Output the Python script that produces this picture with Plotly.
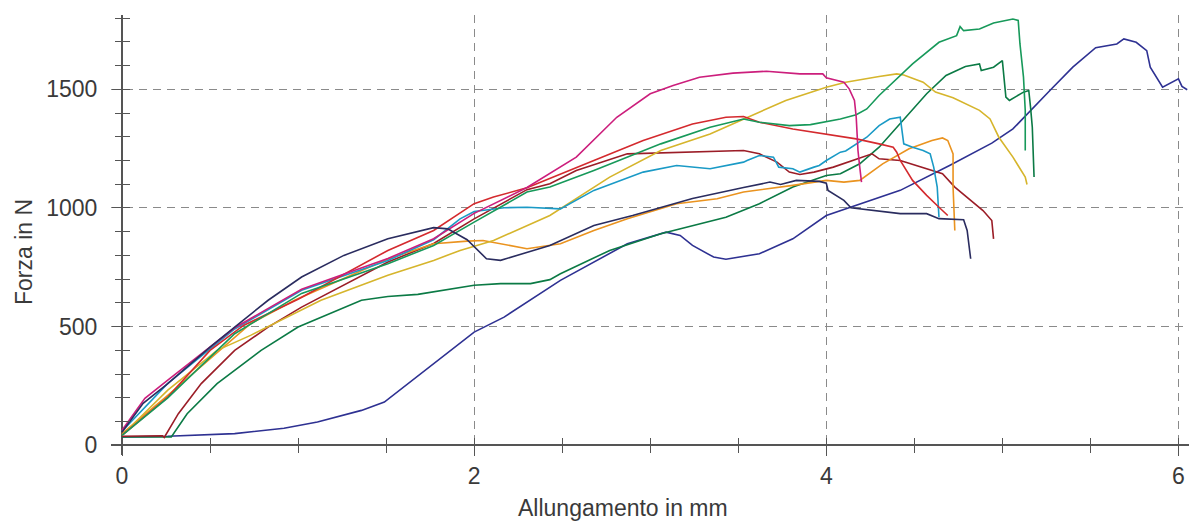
import plotly.graph_objects as go

# ---------------- data (Allungamento in mm, Forza in N) ----------------
prova1_x = [0, 0.12, 0.26, 0.5, 0.64, 0.83, 1.02, 1.26, 1.51, 1.77, 1.85, 1.96, 2.07, 2.15, 2.43, 2.68, 2.9, 3.24, 3.53, 3.68, 3.74, 3.83, 3.96, 4.0, 4.01, 4.1, 4.14, 4.25, 4.42, 4.57, 4.64, 4.78, 4.8, 4.82]
prova1_y = [55, 177, 260, 414, 498, 611, 709, 800, 870, 917, 912, 866, 786, 779, 842, 926, 968, 1040, 1086, 1109, 1099, 1116, 1112, 1104, 1074, 1032, 1001, 992, 976, 976, 955, 950, 905, 786]

prova2_x = [0, 0.26, 0.64, 0.92, 1.11, 1.36, 1.49, 1.77, 2.0, 2.17, 2.49, 2.87, 3.06, 3.09, 3.17, 3.24, 3.36, 3.43, 3.62, 3.81, 4.0, 4.13, 4.42, 4.7, 4.94, 5.06, 5.15, 5.27, 5.4, 5.53, 5.65, 5.69, 5.76, 5.82, 5.84, 5.91, 6.0, 6.02, 6.05]
prova2_y = [35, 38, 49, 72, 98, 147, 182, 344, 477, 540, 695, 849, 894, 898, 884, 842, 793, 784, 807, 870, 968, 1001, 1074, 1179, 1273, 1333, 1403, 1495, 1593, 1675, 1691, 1712, 1698, 1663, 1593, 1509, 1544, 1512, 1498]

prova3_x = [0, 0.13, 0.26, 0.64, 1.02, 1.51, 1.77, 2.0, 2.3, 2.58, 2.81, 3.0, 3.13, 3.28, 3.47, 3.66, 3.85, 3.98, 4.0, 4.1, 4.13, 4.16, 4.17, 4.18, 4.19, 4.2]
prova3_y = [63, 198, 274, 495, 657, 787, 870, 977, 1086, 1214, 1382, 1481, 1516, 1551, 1568, 1576, 1565, 1565, 1548, 1530, 1502, 1453, 1382, 1242, 1172, 1109]

prova4_x = [0, 0.26, 0.5, 0.69, 1.0, 1.51, 1.77, 2.0, 2.11, 2.3, 2.68, 2.96, 3.24, 3.43, 3.53, 3.62, 3.81, 4.0, 4.17, 4.3, 4.38, 4.4, 4.42, 4.49, 4.57, 4.64, 4.69]
prova4_y = [42, 203, 400, 505, 615, 821, 905, 1018, 1046, 1085, 1200, 1284, 1354, 1382, 1385, 1361, 1333, 1312, 1291, 1270, 1256, 1235, 1200, 1116, 1053, 1003, 968]

prova5_x = [0, 0.23, 0.24, 0.32, 0.45, 0.64, 0.83, 1.02, 1.51, 1.77, 2.0, 2.3, 2.43, 2.58, 2.87, 3.24, 3.53, 3.62, 3.72, 3.79, 3.85, 3.93, 4.04, 4.26, 4.3, 4.42, 4.57, 4.66, 4.73, 4.81, 4.89, 4.94, 4.95]
prova5_y = [38, 40, 33, 133, 260, 400, 498, 582, 772, 850, 954, 1077, 1102, 1158, 1228, 1235, 1242, 1228, 1193, 1151, 1141, 1151, 1172, 1228, 1207, 1200, 1165, 1144, 1088, 1039, 989, 947, 870]

prova6_x = [0, 0.26, 0.73, 0.98, 1.51, 1.77, 1.96, 2.05, 2.3, 2.49, 2.68, 2.87, 3.15, 3.38, 3.53, 3.72, 3.81, 4.0, 4.1, 4.19, 4.32, 4.47, 4.6, 4.66, 4.69, 4.72, 4.72, 4.73]
prova6_y = [49, 210, 512, 611, 785, 849, 860, 863, 828, 849, 905, 954, 1018, 1039, 1067, 1085, 1095, 1116, 1109, 1116, 1186, 1249, 1284, 1295, 1284, 1228, 1088, 905]

prova7_x = [0, 0.26, 0.54, 0.73, 1.13, 1.51, 1.77, 1.92, 2.11, 2.43, 2.77, 3.06, 3.34, 3.53, 3.77, 4.0, 4.11, 4.3, 4.4, 4.44, 4.55, 4.62, 4.72, 4.87, 4.93, 4.98, 5.06, 5.13, 5.14]
prova7_y = [42, 232, 400, 463, 611, 716, 779, 821, 863, 968, 1130, 1242, 1312, 1375, 1453, 1509, 1530, 1554, 1565, 1560, 1530, 1488, 1464, 1411, 1375, 1298, 1214, 1130, 1099]

prova8_x = [0, 0.26, 0.64, 1.02, 1.51, 1.77, 2.0, 2.3, 2.43, 2.68, 3.06, 3.34, 3.53, 3.62, 3.79, 3.91, 4.08, 4.17, 4.23, 4.3, 4.49, 4.64, 4.74, 4.76, 4.78, 4.87, 4.95, 5.06, 5.09, 5.1, 5.12, 5.13, 5.13]
prova8_y = [42, 200, 470, 640, 765, 842, 940, 1067, 1088, 1158, 1270, 1340, 1375, 1361, 1347, 1351, 1375, 1393, 1417, 1474, 1607, 1698, 1726, 1764, 1747, 1754, 1779, 1796, 1790, 1691, 1551, 1411, 1242]

prova9_x = [0, 0.28, 0.37, 0.54, 0.79, 1.0, 1.36, 1.51, 1.68, 2.0, 2.15, 2.32, 2.43, 2.49, 2.77, 3.06, 3.43, 3.62, 3.81, 4.0, 4.08, 4.19, 4.3, 4.42, 4.57, 4.68, 4.79, 4.87, 4.88, 4.95, 5.0, 5.02, 5.04, 5.12, 5.15, 5.16, 5.17, 5.18]
prova9_y = [35, 35, 133, 260, 400, 498, 611, 627, 636, 674, 681, 681, 698, 723, 821, 891, 961, 1018, 1088, 1137, 1144, 1186, 1256, 1354, 1481, 1558, 1596, 1607, 1579, 1593, 1621, 1467, 1453, 1488, 1495, 1425, 1340, 1130]

prova10_x = [0, 0.26, 0.64, 1.02, 1.51, 1.77, 1.92, 2.0, 2.17, 2.3, 2.49, 2.68, 2.96, 3.15, 3.34, 3.53, 3.55, 3.62, 3.7, 3.73, 3.81, 3.85, 3.93, 3.96, 4.0, 4.08, 4.11, 4.23, 4.3, 4.36, 4.42, 4.44, 4.49, 4.55, 4.59, 4.61, 4.63, 4.64]
prova10_y = [59, 261, 490, 653, 779, 866, 954, 985, 1001, 1003, 996, 1074, 1151, 1179, 1165, 1193, 1200, 1221, 1214, 1172, 1165, 1151, 1172, 1179, 1200, 1235, 1240, 1298, 1347, 1375, 1382, 1270, 1256, 1242, 1228, 1172, 1088, 961]

x_ticks = [0, 2, 4, 6]
y_ticks = [0, 500, 1000, 1500]

series = [
    (prova2_x, prova2_y, "#2e3192"),
    (prova9_x, prova9_y, "#0b7a45"),
    (prova5_x, prova5_y, "#9b1d27"),
    (prova6_x, prova6_y, "#ea931f"),
    (prova7_x, prova7_y, "#d6b52c"),
    (prova10_x, prova10_y, "#1a9ac6"),
    (prova4_x, prova4_y, "#d42a2e"),
    (prova8_x, prova8_y, "#17995a"),
    (prova3_x, prova3_y, "#cc1e7c"),
    (prova1_x, prova1_y, "#2a2c5f"),
]

fig = go.Figure()
for xs, ys, col in series:
    fig.add_trace(go.Scatter(x=xs, y=ys, mode="lines", line=dict(color=col, width=1.6),
                             showlegend=False, hoverinfo="skip", cliponaxis=False))
# empty trace to activate overlay axes (inner half of crossing ticks)
fig.add_trace(go.Scatter(x=[], y=[], xaxis="x2", yaxis="y2", showlegend=False, hoverinfo="skip"))

X_RANGE = [-0.0625, 6.06]
Y_RANGE = [-41, 1813]
xpos = (0 - Y_RANGE[0]) / (Y_RANGE[1] - Y_RANGE[0])
ypos = (0 - X_RANGE[0]) / (X_RANGE[1] - X_RANGE[0])

axis_col = "#555555"
grid_col = "#8a8a8a"
tfont = dict(family="Liberation Sans, Arial, sans-serif", size=23, color="#3a3a3a")

L, R, T, B = 111, 0, 15, 67
PW, PH = 1189 - L - R, 522 - T - B

fig.update_layout(
    width=1189, height=522,
    margin=dict(l=L, r=R, t=T, b=B, autoexpand=False),
    paper_bgcolor="white", plot_bgcolor="white",
    showlegend=False,
    xaxis=dict(range=X_RANGE, anchor="free", position=xpos, automargin=False,
               tickmode="array", tickvals=x_ticks, ticktext=[str(v) for v in x_ticks],
               ticks="outside", ticklen=10, tickwidth=1.3, tickcolor=axis_col,
               minor=dict(dtick=0.5, tick0=0, ticks="outside", ticklen=7, tickwidth=1.3,
                          tickcolor=axis_col, showgrid=False),
               showgrid=True, gridcolor=grid_col, gridwidth=1.3, griddash="8px,6px",
               zeroline=True, zerolinecolor=axis_col, zerolinewidth=1.5,
               showline=False, tickfont=tfont, ticklabelstandoff=0),
    yaxis=dict(range=Y_RANGE, anchor="free", position=ypos, automargin=False,
               tickmode="array", tickvals=y_ticks, ticktext=[str(v) for v in y_ticks],
               ticks="outside", ticklen=10, tickwidth=1.3, tickcolor=axis_col,
               minor=dict(dtick=100, tick0=0, ticks="outside", ticklen=7, tickwidth=1.3,
                          tickcolor=axis_col, showgrid=False),
               showgrid=True, gridcolor=grid_col, gridwidth=1.3, griddash="8px,6px",
               zeroline=True, zerolinecolor=axis_col, zerolinewidth=1.5,
               showline=False, tickfont=tfont, ticklabelstandoff=10),
    xaxis2=dict(range=X_RANGE, overlaying="x", anchor="free", position=xpos, automargin=False,
                tickmode="linear", tick0=0, dtick=0.5, ticks="inside", ticklen=7, tickwidth=1.3,
                tickcolor=axis_col, showticklabels=False, showgrid=False, zeroline=False, showline=False),
    yaxis2=dict(range=Y_RANGE, overlaying="y", anchor="free", position=ypos, automargin=False,
                tickmode="linear", tick0=0, dtick=100, ticks="inside", ticklen=7, tickwidth=1.3,
                tickcolor=axis_col, showticklabels=False, showgrid=False, zeroline=False, showline=False),
    annotations=[
        dict(text="Allungamento in mm", xref="paper", yref="paper", x=(623 - L) / PW,
             y=(T + PH - 508) / PH, xanchor="center", yanchor="middle", showarrow=False, font=tfont),
        dict(text="Forza in N", xref="paper", yref="paper", x=(24 - L) / PW,
             y=(T + PH - 252) / PH, xanchor="center", yanchor="middle", textangle=-90,
             showarrow=False, font=tfont),
    ],
)

fig.write_html("out.html", config={"displayModeBar": False},
               post_script="document.body.style.margin='0';document.body.style.overflow='hidden';")
